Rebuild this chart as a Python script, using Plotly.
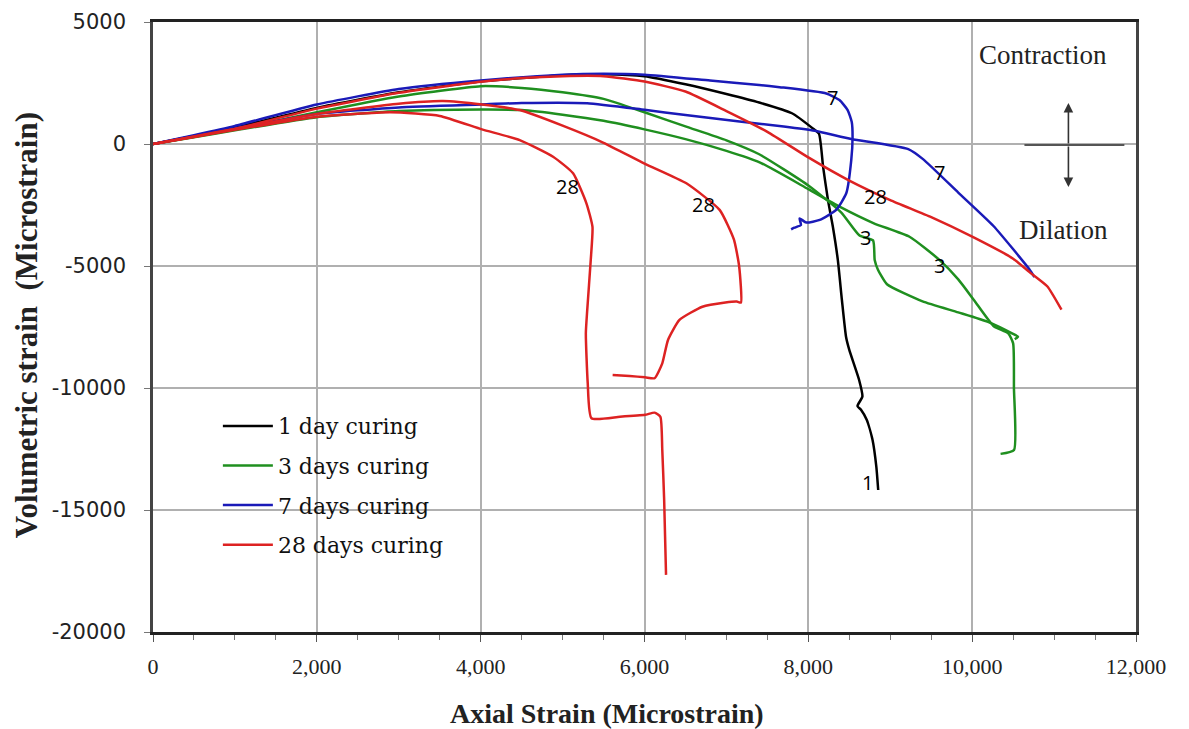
import plotly.graph_objects as go

# ---------------- data ----------------
series_names = ["1 day curing", "3 days curing", "7 days curing", "28 days curing"]
series_colors = ["#000000", "#1f8f1f", "#1a1ab8", "#dd2222"]

# 1 day curing
d1_x = [0, 500, 1000, 2000, 3000, 4000, 5000, 5500, 6000, 6500, 7000, 7400, 7800, 8050, 8130,
        8180, 8240, 8300, 8360, 8410, 8460, 8500, 8620, 8660, 8600, 8645, 8714, 8784, 8830, 8853]
d1_y = [0, 330, 680, 1480, 2120, 2560, 2820, 2860, 2780, 2450, 2050, 1700, 1260, 650, 420,
        -930, -2300, -3400, -4750, -6400, -7900, -8440, -9670, -10350, -10740, -10900, -11310, -12130, -13220, -14180]

# 3 days curing, specimen A
d3a_x = [0, 500, 1000, 2000, 3000, 4000, 4500, 5000, 5500, 6000, 6500, 7000, 7400, 8000, 8400,
         8625, 8790, 8810, 8850, 8960, 9394, 9830, 10200, 10487, 10560, 10520]
d3a_y = [0, 300, 600, 1300, 1950, 2370, 2300, 2120, 1850, 1300, 720, 150, -420, -1700, -2800,
         -3750, -3950, -4750, -5150, -5750, -6450, -6900, -7300, -7760, -7900, -8000]
# 3 days curing, specimen B
d3b_x = [0, 500, 1000, 2000, 3000, 4000, 4500, 5000, 5500, 6000, 6500, 7000, 7405, 8000, 8381,
         8800, 9235, 9600, 9830, 10021, 10264, 10441, 10500, 10510, 10511, 10347]
d3b_y = [0, 280, 560, 1100, 1350, 1410, 1390, 1200, 950, 600, 200, -280, -750, -1850, -2568,
         -3250, -3800, -4750, -5550, -6393, -7470, -7760, -8170, -10000, -12540, -12700]

# 7 days curing, specimen A
d7a_x = [0, 500, 1000, 2000, 3000, 4000, 5000, 5500, 6000, 6800, 7400, 7650, 8220, 8380, 8480,
         8530, 8540, 8524, 8463, 8340, 8140, 7975, 7893, 7910, 7830, 7790]
d7a_y = [0, 360, 740, 1620, 2250, 2600, 2840, 2880, 2840, 2600, 2420, 2330, 2070, 1800, 1390,
         900, 300, -660, -2020, -2700, -3110, -3220, -3050, -3320, -3430, -3500]
# 7 days curing, specimen B
d7b_x = [0, 500, 1000, 2000, 3000, 4000, 4500, 5300, 6000, 6500, 7160, 7700, 8080, 8525, 9220,
         9400, 9830, 10260, 10700, 10760]
d7b_y = [0, 320, 640, 1230, 1500, 1620, 1680, 1670, 1400, 1190, 920, 720, 545, 205, -210,
         -620, -1990, -3360, -5140, -5450]

# 28 days curing, specimen A
d28a_x = [0, 500, 1000, 2000, 2900, 3500, 4016, 4477, 4884, 5128, 5291, 5365, 5344, 5301, 5284,
          5307, 5353, 5700, 6007, 6123, 6194, 6217, 6240, 6263]
d28a_y = [0, 290, 580, 1120, 1300, 1150, 600, 160, -520, -1200, -2430, -3400, -4750, -6800, -7760,
          -9800, -11240, -11180, -11100, -11010, -11180, -12540, -14590, -17660]
# 28 days curing, specimen B
d28b_x = [0, 500, 1000, 2000, 3000, 3540, 4016, 4477, 5000, 5500, 6000, 6511, 6917, 7091, 7155,
          7177, 7127, 6987, 6707, 6427, 6287, 6217, 6123, 6007, 5819, 5611]
d28b_y = [0, 310, 620, 1230, 1650, 1760, 1620, 1390, 750, 50, -800, -1610, -2700, -3910, -5000,
          -6500, -6460, -6500, -6670, -7210, -8030, -8990, -9600, -9560, -9510, -9470]
# 28 days curing, specimen C
d28c_x = [0, 500, 1000, 2000, 3000, 4000, 4500, 5000, 5500, 6000, 6500, 7000, 7500, 8000, 8500,
          9000, 9500, 10000, 10500, 10700, 10916, 11090]
d28c_y = [0, 300, 620, 1450, 2100, 2550, 2700, 2780, 2780, 2560, 2150, 1350, 500, -550, -1500,
          -2300, -3000, -3800, -4700, -5250, -5830, -6790]

curves = [
    (d1_x, d1_y, 0),
    (d3a_x, d3a_y, 1), (d3b_x, d3b_y, 1),
    (d7a_x, d7a_y, 2), (d7b_x, d7b_y, 2),
    (d28a_x, d28a_y, 3), (d28b_x, d28b_y, 3), (d28c_x, d28c_y, 3),
]

# curve labels: (text, x, y)
label_text = ["7", "7", "28", "28", "28", "3", "3", "1"]
label_x = [8296, 9601, 5063, 6722, 8821, 8699, 9601, 8723]
label_y = [1926, -1188, -1762, -2459, -2131, -3852, -4959, -13892]

x_ticks = [0, 2000, 4000, 6000, 8000, 10000, 12000]
x_ticktext = ["0", "2,000", "4,000", "6,000", "8,000", "10,000", "12,000"]
y_ticks = [5000, 0, -5000, -10000, -15000, -20000]
y_ticktext = ["5000", "0", "-5000", "-10000", "-15000", "-20000"]

# ---------------- figure ----------------
fig = go.Figure()
shown = set()
for xs, ys, k in curves:
    fig.add_trace(go.Scatter(
        x=xs, y=ys, mode="lines",
        line=dict(color=series_colors[k], width=2.5, shape="spline", smoothing=0.5),
        name=series_names[k], legendgroup=series_names[k],
        showlegend=k not in shown,
    ))
    shown.add(k)

for t, lx, ly in zip(label_text, label_x, label_y):
    fig.add_annotation(x=lx, y=ly, text=t, showarrow=False,
                       xanchor="center", yanchor="middle",
                       font=dict(family="Open Sans, Liberation Sans", size=20, color="black"))

serif = "Liberation Serif, Times New Roman, serif"
fig.add_annotation(x=10870, y=3647, text="Contraction", showarrow=False,
                   xanchor="center", yanchor="middle",
                   font=dict(family=serif, size=27, color="#222"))
fig.add_annotation(x=11114, y=-3524, text="Dilation", showarrow=False,
                   xanchor="center", yanchor="middle",
                   font=dict(family=serif, size=27, color="#222"))
# contraction / dilation arrows
for ty in (1680, -1762):
    fig.add_annotation(x=11175, y=ty, ax=11175, ay=-41, axref="x", ayref="y",
                       xref="x", yref="y", text="", showarrow=True,
                       arrowhead=2, arrowsize=1.2, arrowwidth=1.6, arrowcolor="#333")
fig.add_shape(type="line", xref="x", yref="y", x0=10638, x1=11858, y0=-41, y1=-41,
              line=dict(color="#555", width=2))

# white box behind the legend (hides grid lines like the original)
fig.add_shape(type="rect", xref="paper", yref="paper", x0=0.0224, x1=0.343, y0=0.11, y1=0.372,
              fillcolor="white", line=dict(width=0), layer="below")

# axis titles
fig.add_annotation(xref="paper", yref="paper", x=0.462, y=-0.134, xanchor="center", yanchor="middle",
                   text="<b>Axial Strain (Microstrain)</b>",
                   showarrow=False, font=dict(family=serif, size=28, color="#222"))
fig.add_annotation(xref="paper", yref="paper", x=-0.1292, y=0.503, xanchor="center", yanchor="middle",
                   text="<b>Volumetric strain  (Microstrain)</b>",
                   showarrow=False, textangle=-90, font=dict(family=serif, size=31, color="#222"))

fig.update_layout(
    width=1189, height=729,
    margin=dict(l=145, r=61, t=14, b=105),
    plot_bgcolor="white", paper_bgcolor="white",
    showlegend=True,
    legend=dict(x=0.066, y=0.372, xanchor="left", yanchor="top",
                bgcolor="rgba(255,255,255,0)", font=dict(family="DejaVu Serif", size=22, color="#111"),
                tracegroupgap=8, traceorder="grouped", itemwidth=50),
    xaxis=dict(range=[0, 12000], tickvals=x_ticks, ticktext=x_ticktext, automargin=False,
               showgrid=True, gridcolor="#b0b0b0", gridwidth=1.6,
               showline=True, linecolor="#222", linewidth=2.5, mirror=True,
               ticks="outside", ticklen=7, tickcolor="#555", ticklabelstandoff=6,
               minor=dict(dtick=500, ticks="outside", ticklen=5, tickcolor="#777", showgrid=False),
               tickfont=dict(family=serif, size=22, color="#222"), zeroline=False),
    yaxis=dict(range=[-20000, 5000], tickvals=y_ticks, ticktext=y_ticktext, automargin=False,
               showgrid=True, gridcolor="#b0b0b0", gridwidth=1.6,
               showline=True, linecolor="#444", linewidth=2.5, mirror=True,
               ticks="outside", ticklen=6, tickcolor="#777", ticklabelstandoff=14,
               tickfont=dict(family="DejaVu Sans", size=21, color="#222"), zeroline=False),
)

fig.write_html("out.html")
